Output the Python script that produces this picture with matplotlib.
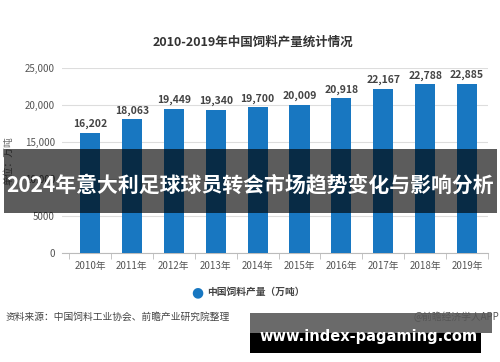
import matplotlib
matplotlib.use("Agg")
import matplotlib.pyplot as plt
from matplotlib.patches import Rectangle

plt.rcParams['font.family'] = ['Noto Sans CJK SC', 'DejaVu Sans']

# data
years = ['2010年', '2011年', '2012年', '2013年', '2014年',
         '2015年', '2016年', '2017年', '2018年', '2019年']
output = [16202, 18063, 19449, 19340, 19700, 20009, 20918, 22167, 22788, 22885]
yticks = [0, 5000, 10000, 15000, 20000, 25000]
ytick_labels = ['0', '5000', '10,000', '15,000', '20,000', '25,000']

bar_color = '#1877c1'

fig = plt.figure(figsize=(5, 3.62), dpi=100)
ax = fig.add_axes([0.124, 0.301, 0.852, 0.511])

x = list(range(len(years)))
ax.bar(x, output, width=0.48, color=bar_color, zorder=3)
for xi, v in zip(x, output):
    ax.text(xi, v + 500, f'{v:,}', ha='center', va='bottom',
            fontsize=7.5, fontweight='bold', color='#444444')

ax.set_xlim(-0.67, 9.5)
ax.set_ylim(0, 25000)
ax.set_yticks(yticks)
ax.set_yticklabels(ytick_labels)
ax.set_xticks(x)
ax.set_xticklabels(years)
ax.set_xticks([i + 0.5 for i in range(-1, 10)], minor=True)
ax.tick_params(axis='x', which='major', length=0, pad=6, labelsize=7, labelcolor='#555555')
ax.tick_params(axis='x', which='minor', length=4, color='#bbbbbb')
ax.tick_params(axis='y', length=0, pad=5, labelsize=7, labelcolor='#555555')
ax.grid(axis='y', color='#dddddd', linewidth=0.8, zorder=0)
for s in ['top', 'right', 'left']:
    ax.spines[s].set_visible(False)
ax.spines['bottom'].set_color('#bbbbbb')

ax.set_ylabel('单位：万吨', fontsize=7, color='#666666', labelpad=8)

fig.text(0.506, 1 - 42 / 362, '2010-2019年中国饲料产量统计情况', ha='center', va='center',
         fontsize=9, fontweight='bold', color='#333333')

# legend
fig.text(0.394, 1 - 292 / 362, '●', ha='center', va='center', fontsize=10, color=bar_color,
         family='DejaVu Sans')
fig.text(0.414, 1 - 292 / 362, '中国饲料产量（万吨）', ha='left', va='center',
         fontsize=7, fontweight='bold', color='#444444')

fig.text(0.012, 1 - 317 / 362, '资料来源：中国饲料工业协会、前瞻产业研究院整理', ha='left', va='center',
         fontsize=7, color='#444444')

# overlay band across the middle
fig.patches.append(Rectangle((0.008, 1 - 213 / 362), 0.986, 64 / 362, transform=fig.transFigure,
                             facecolor='black', alpha=0.64, zorder=5))
fig.text(0.5, 1 - 185 / 362, '2024年意大利足球球员转会市场趋势变化与影响分析', ha='center', va='center',
         fontsize=15, fontweight='bold', color='white', zorder=6)

# bottom watermark
fig.patches.append(Rectangle((0.5, 1 - 333 / 362), 0.484, 20 / 362, transform=fig.transFigure,
                             facecolor='#6a6a6a', zorder=5))
fig.patches.append(Rectangle((0.5, 1 - 353 / 362), 0.462, 20 / 362, transform=fig.transFigure,
                             facecolor='black', zorder=5))
fig.text(0.998, 1 - 317 / 362, '@前瞻经济学人APP', ha='right', va='center',
         fontsize=7, color='#555555', zorder=7)
fig.text(0.738, 1 - 337 / 362, 'www.index-pagaming.com', ha='center', va='center',
         fontsize=10.5, fontweight='bold', color='white', zorder=6, family='DejaVu Sans')

fig.savefig('out.png', dpi=100)
